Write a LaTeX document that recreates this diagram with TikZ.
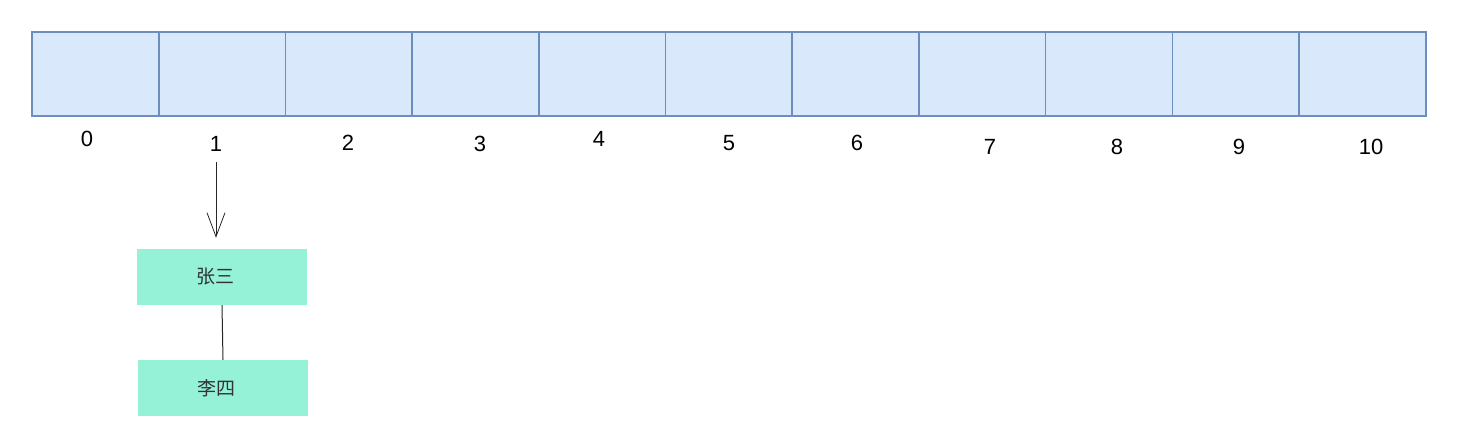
\documentclass[tikz,border=0pt]{standalone}
\usepackage{fontspec}
\setmainfont{Liberation Sans}
\newfontfamily\cjk{Noto Sans CJK SC}
\usepackage{xcolor}
\usetikzlibrary{arrows.meta, positioning}
\definecolor{cellfill}{HTML}{DAE8FC}
\definecolor{celldraw}{HTML}{6C8EBF}
\definecolor{itemfill}{HTML}{96F2D7}
\begin{document}
\begin{tikzpicture}[
    x=1pt, y=-1pt,
    cell/.style={rectangle, draw=celldraw, fill=cellfill, line width=1.6pt,
                 minimum width=126.7pt, minimum height=84pt, inner sep=0pt},
    idx/.style={font=\fontsize{22}{24}\selectfont, inner sep=2pt},
    item/.style={rectangle, fill=itemfill, minimum width=170pt,
                 minimum height=56pt, inner sep=0pt,
                 font=\cjk\fontsize{19}{22}\selectfont, text=black!80},
    arr/.style={-{Straight Barb[length=24pt, width=18pt]}, black!85, line width=0.8pt},
    link/.style={black!85, line width=1pt}
  ]
  \useasboundingbox (0,0) rectangle (1460,425);

  % array cells
  \foreach \i in {0,...,10}
    \node[cell] (c\i) at ({95.35+126.7*\i}, 74) {};

  % index labels
  \foreach \i/\x/\y in {0/87/139, 1/216/144, 2/348/143, 3/480/144,
                        4/599/139, 5/729/143, 6/857/143, 7/990/147,
                        8/1117/147, 9/1239/147, 10/1371/147}
    \node[idx] (l\i) at (\x,\y) {\i};

  % linked list
  \node[item] (zs) at (222,277) {\hspace*{-14pt}张三};
  \node[item] (ls) at (223,388) {\hspace*{-14pt}李四};

  \draw[arr, shorten <=8pt, shorten >=11pt] (l1.south) -- (l1.south |- zs.north);
  \draw[link] (zs.south) -- (ls.north);

\end{tikzpicture}
\end{document}
